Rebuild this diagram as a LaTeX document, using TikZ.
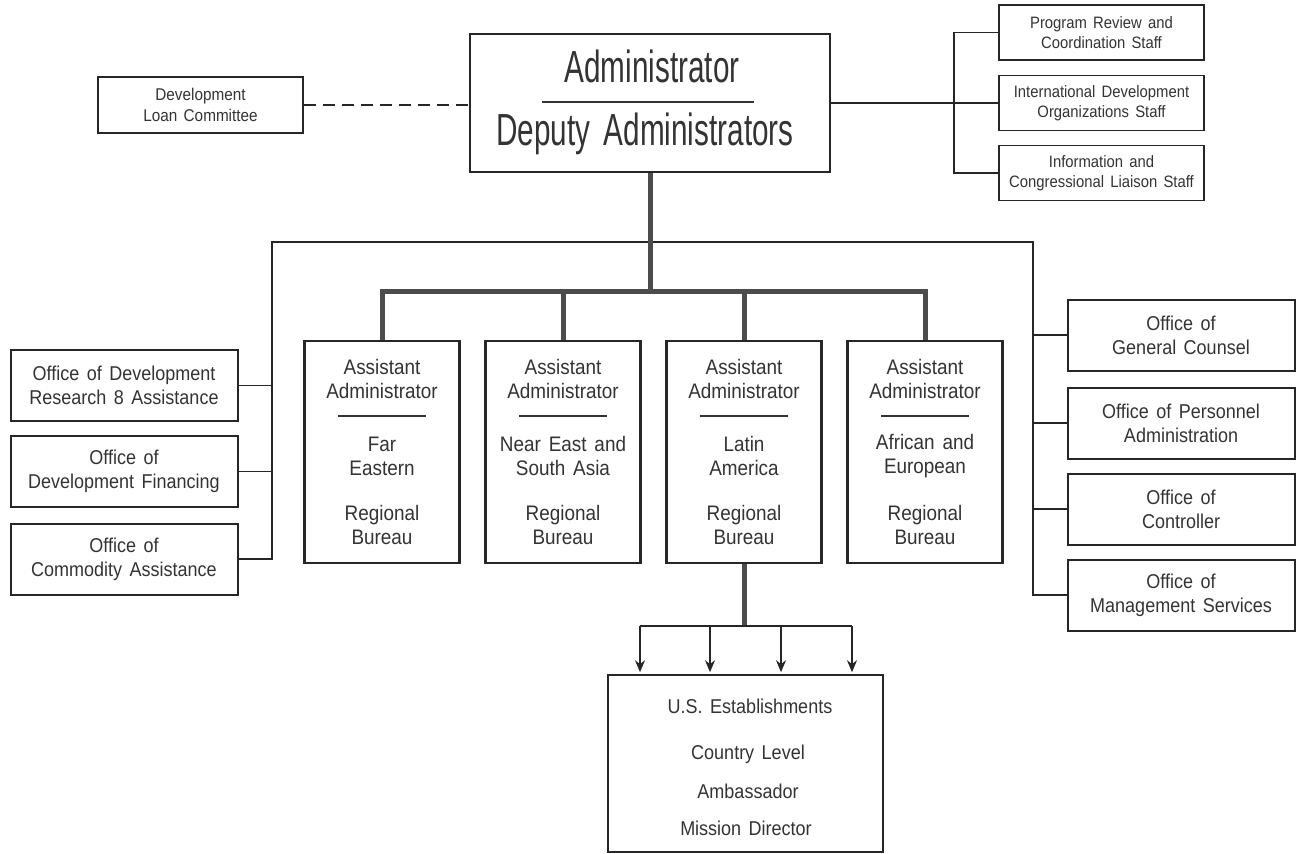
\documentclass[tikz,border=0pt]{standalone}
\usepackage{fontspec}
\setmainfont{Liberation Sans}[FakeStretch=0.9, WordSpace=1.5]
\newfontfamily\condfont{Liberation Sans}[FakeStretch=0.66, WordSpace=1.6]
\usetikzlibrary{arrows.meta}

\begin{document}
\begin{tikzpicture}[x=0.5pt, y=-0.5pt,
    box/.style={draw=black!85, line width=1pt, inner sep=0pt, align=center, text=black!80},
    staffbox/.style={box, line width=0.8pt, minimum width=102.5pt, minimum height=27.5pt, font=\fontsize{8.25}{10}\selectfont},
    officebox/.style={box, minimum width=113.5pt, minimum height=35.5pt, font=\fontsize{10}{12}\selectfont},
    aabox/.style={box, line width=1.4pt, minimum width=77.5pt, minimum height=111pt},
    aatext/.style={align=center, text=black!80, inner sep=0pt, font=\fontsize{10.5}{12}\selectfont},
    lettering/.style={text=black!80, inner sep=0pt, font=\fontsize{10}{12}\selectfont},
    link/.style={draw=black!85, line width=0.9pt},
    trunk/.style={draw=black!70, line width=2.5pt},
    rulethin/.style={draw=black!80, line width=0.6pt},
]
    \useasboundingbox (0,0) rectangle (1299,853);

    % top level
    \node[box, line width=1.3pt, minimum width=180pt, minimum height=69pt] (admin) at (650,103) {};
    \node[lettering, font=\condfont\fontsize{22.5}{27}\selectfont, anchor=base] (admt) at (652,82) {Administrator};
    \draw[rulethin] (542,102) -- (754,102);
    \node[lettering, font=\condfont\fontsize{22.5}{27}\selectfont, anchor=base] (admd) at (645,145) {Deputy Administrators};

    \node[box, line width=0.8pt, minimum width=102.5pt, minimum height=28pt, font=\fontsize{8.5}{10.5}\selectfont] (loan) at (200.5,105) {Development\\Loan Committee};

    % staff offices
    \node[staffbox] (prs) at (1101.5,32.5) {Program Review and\\Coordination Staff};
    \node[staffbox] (ids) at (1101.5,103) {International Development\\Organizations Staff};
    \node[staffbox] (ics) at (1101.5,173) {Information and\\Congressional Liaison Staff};

    % side offices
    \node[officebox] (odr) at (124,385.5) {Office of Development\\Research 8 Assistance};
    \node[officebox] (odf) at (124,471.5) {Office of\\Development Financing};
    \node[officebox] (oca) at (124,559) {Office of\\Commodity Assistance};
    \node[officebox] (ogc) at (1181,335) {Office of\\General Counsel};
    \node[officebox] (opa) at (1181,423) {Office of Personnel\\Administration};
    \node[officebox] (oco) at (1181,509) {Office of\\Controller};
    \node[officebox] (oms) at (1181,595) {Office of\\Management Services};

    % regional bureaus
    \node[aabox] (aa1) at (382,452) {};
    \node[aatext] (aa1t) at (382,379) {Assistant\\Administrator};
    \draw[rulethin] (338,416) -- (426,416);
    \node[aatext] (aa1r) at (382,456) {Far\\Eastern};
    \node[aatext] (aa1b) at (382,525) {Regional\\Bureau};

    \node[aabox] (aa2) at (563,452) {};
    \node[aatext] (aa2t) at (563,379) {Assistant\\Administrator};
    \draw[rulethin] (519,416) -- (607,416);
    \node[aatext] (aa2r) at (563,456) {Near East and\\South Asia};
    \node[aatext] (aa2b) at (563,525) {Regional\\Bureau};

    \node[aabox] (aa3) at (744,452) {};
    \node[aatext] (aa3t) at (744,379) {Assistant\\Administrator};
    \draw[rulethin] (700,416) -- (788,416);
    \node[aatext] (aa3r) at (744,456) {Latin\\America};
    \node[aatext] (aa3b) at (744,525) {Regional\\Bureau};

    \node[aabox] (aa4) at (925,452) {};
    \node[aatext] (aa4t) at (925,379) {Assistant\\Administrator};
    \draw[rulethin] (881,416) -- (969,416);
    \node[aatext] (aa4r) at (925,456) {African and\\European};
    \node[aatext] (aa4b) at (925,525) {Regional\\Bureau};

    % country level
    \node[box, line width=0.8pt, minimum width=137.5pt, minimum height=88.5pt] (use) at (745.5,763.5) {};
    \node[lettering, anchor=base] (use1) at (750,713) {U.S. Establishments};
    \node[lettering, anchor=base] (use2) at (748,759) {Country Level};
    \node[lettering, anchor=base] (use3) at (748,798) {Ambassador};
    \node[lettering, anchor=base] (use4) at (746,835) {Mission Director};

    % thin connectors
    \draw[link, dashed, dash pattern=on 6pt off 3.5pt] (loan.east) -- (admin.west |- loan.east);
    \coordinate (sb) at (954,103);
    \draw[link] (admin.east) -- (sb);
    \draw[link] (prs.west) -| (sb) |- (ics.west);
    \draw[link] (ids.west) -- (sb);

    \coordinate (ltop) at (272,242);
    \coordinate (rtop) at (1033,242);
    \draw[link] (oca.east) -| (ltop) -- (rtop) |- (oms.west);
    \draw[link] (odr.east) -- (odr.east -| ltop);
    \draw[link] (odf.east) -- (odf.east -| ltop);
    \draw[link] (ogc.west) -- (ogc.west -| rtop);
    \draw[link] (opa.west) -- (opa.west -| rtop);
    \draw[link] (oco.west) -- (oco.west -| rtop);

    % thick lines of command
    \coordinate (bus) at (650,291);
    \draw[trunk] (admin.south) -- (admin.south |- bus);
    \draw[trunk] (aa1.north) -- (aa1.north |- bus) -- (aa4.north |- bus) -- (aa4.north);
    \draw[trunk] (aa2.north) -- (aa2.north |- bus);
    \draw[trunk] (aa3.north) -- (aa3.north |- bus);

    \coordinate (fork) at (744,626);
    \draw[trunk] (aa3.south) -- (fork);
    \coordinate (f1) at (640,626);
    \coordinate (f2) at (710,626);
    \coordinate (f3) at (781,626);
    \coordinate (f4) at (852,626);
    \draw[link] (f1) -- (f4);
    \draw[link, -{Stealth[length=6pt, width=5pt]}, shorten >=1pt] (f1) -- (f1 |- use.north);
    \draw[link, -{Stealth[length=6pt, width=5pt]}, shorten >=1pt] (f2) -- (f2 |- use.north);
    \draw[link, -{Stealth[length=6pt, width=5pt]}, shorten >=1pt] (f3) -- (f3 |- use.north);
    \draw[link, -{Stealth[length=6pt, width=5pt]}, shorten >=1pt] (f4) -- (f4 |- use.north);
\end{tikzpicture}
\end{document}
